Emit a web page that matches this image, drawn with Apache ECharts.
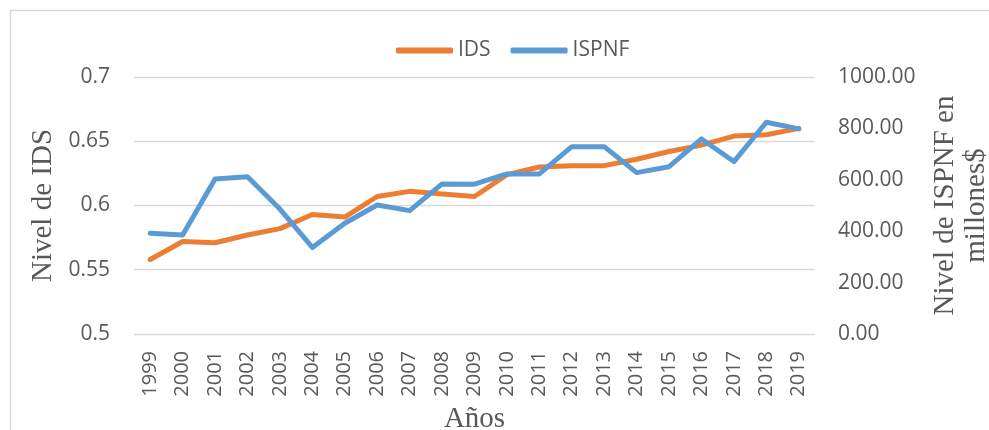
<!DOCTYPE html>
<html>
<head>
<meta charset="utf-8">
<script src="https://cdn.jsdelivr.net/npm/echarts@6/dist/echarts.min.js"></script>
<style>
  html, body { margin: 0; padding: 0; background: #ffffff; }
  #chart { width: 989px; height: 430px; }
</style>
</head>
<body>
<div id="chart"></div>
<script>
// Years on the category axis
var years = ['1999','2000','2001','2002','2003','2004','2005','2006','2007','2008',
             '2009','2010','2011','2012','2013','2014','2015','2016','2017','2018','2019'];

// Índice de Desarrollo Sostenible (left axis)
var ids = [0.558, 0.572, 0.571, 0.577, 0.582, 0.593, 0.591, 0.607, 0.611, 0.609,
           0.607, 0.624, 0.630, 0.631, 0.631, 0.636, 0.642, 0.647, 0.654, 0.655, 0.660];

// ISPNF in millions of dollars (right axis)
var ispnf = [392, 385, 603, 612, 486, 337, 431, 502, 480, 584,
             583, 623, 623, 729, 729, 628, 651, 759, 671, 824, 798];

// Axis tick settings
var idsTicks = { min: 0.5, max: 0.7, interval: 0.05 };
var ispnfTicks = { min: 0, max: 1000, interval: 200 };

var textGray = '#595959';
var gridGray = '#d9d9d9';
var sansFont = 'Open Sans';
var serifFont = 'Liberation Serif';

var chart = echarts.init(document.getElementById('chart'), null, { renderer: 'canvas' });

chart.setOption({
  animation: false,
  backgroundColor: '#ffffff',
  grid: {
    left: 134, right: 174, top: 77, bottom: 96,
    containLabel: false,
    outerBoundsMode: 'none'
  },
  legend: {
    left: 391,
    top: 35,
    icon: 'roundRect',
    itemWidth: 57,
    itemHeight: 6,
    itemGap: 20,
    textStyle: { fontFamily: sansFont, fontSize: 21, color: textGray },
    data: ['IDS', 'ISPNF']
  },
  xAxis: {
    type: 'category',
    data: years,
    boundaryGap: true,
    name: 'Años',
    nameLocation: 'middle',
    nameGap: 68,
    nameTextStyle: { fontFamily: serifFont, fontSize: 29, color: textGray },
    axisLine: { show: false },
    axisTick: { show: false },
    axisLabel: {
      rotate: 90,
      margin: 17,
      interval: 0,
      fontFamily: sansFont,
      fontSize: 20,
      color: textGray
    }
  },
  yAxis: [
    {
      type: 'value',
      position: 'left',
      min: idsTicks.min,
      max: idsTicks.max,
      interval: idsTicks.interval,
      name: 'Nivel de IDS',
      nameLocation: 'middle',
      nameRotate: 90,
      nameGap: 75,
      nameTextStyle: { fontFamily: serifFont, fontSize: 29, color: textGray },
      axisLine: { show: false },
      axisTick: { show: false },
      axisLabel: {
        margin: 24,
        fontFamily: sansFont,
        fontSize: 21,
        color: textGray,
        formatter: function (v) { return String(Math.round(v * 100) / 100); }
      },
      splitLine: { show: true, lineStyle: { color: gridGray, width: 1.3 } }
    },
    {
      type: 'value',
      position: 'right',
      min: ispnfTicks.min,
      max: ispnfTicks.max,
      interval: ispnfTicks.interval,
      name: 'Nivel de ISPNF en\nmillones$',
      nameLocation: 'middle',
      nameRotate: 90,
      nameGap: 115,
      nameTextStyle: { fontFamily: serifFont, fontSize: 29, color: textGray, lineHeight: 31 },
      axisLine: { show: false },
      axisTick: { show: false },
      axisLabel: {
        margin: 23,
        fontFamily: sansFont,
        fontSize: 21,
        color: textGray,
        formatter: function (v) { return v.toFixed(2); }
      },
      splitLine: { show: false }
    }
  ],
  series: [
    {
      name: 'IDS',
      type: 'line',
      yAxisIndex: 0,
      data: ids,
      showSymbol: false,
      symbol: 'none',
      color: '#ed7d31',
      lineStyle: { width: 5, color: '#ed7d31', cap: 'round', join: 'round' },
      z: 2
    },
    {
      name: 'ISPNF',
      type: 'line',
      yAxisIndex: 1,
      data: ispnf,
      showSymbol: false,
      symbol: 'none',
      color: '#5b9bd5',
      lineStyle: { width: 5, color: '#5b9bd5', cap: 'round', join: 'round' },
      z: 3
    }
  ],
  graphic: [
    {
      type: 'line',
      shape: { x1: 10, y1: 10.5, x2: 989, y2: 10.5 },
      style: { stroke: gridGray, lineWidth: 1.5 },
      silent: true
    },
    {
      type: 'line',
      shape: { x1: 10.5, y1: 10, x2: 10.5, y2: 430 },
      style: { stroke: gridGray, lineWidth: 1.5 },
      silent: true
    }
  ]
});
</script>
</body>
</html>
